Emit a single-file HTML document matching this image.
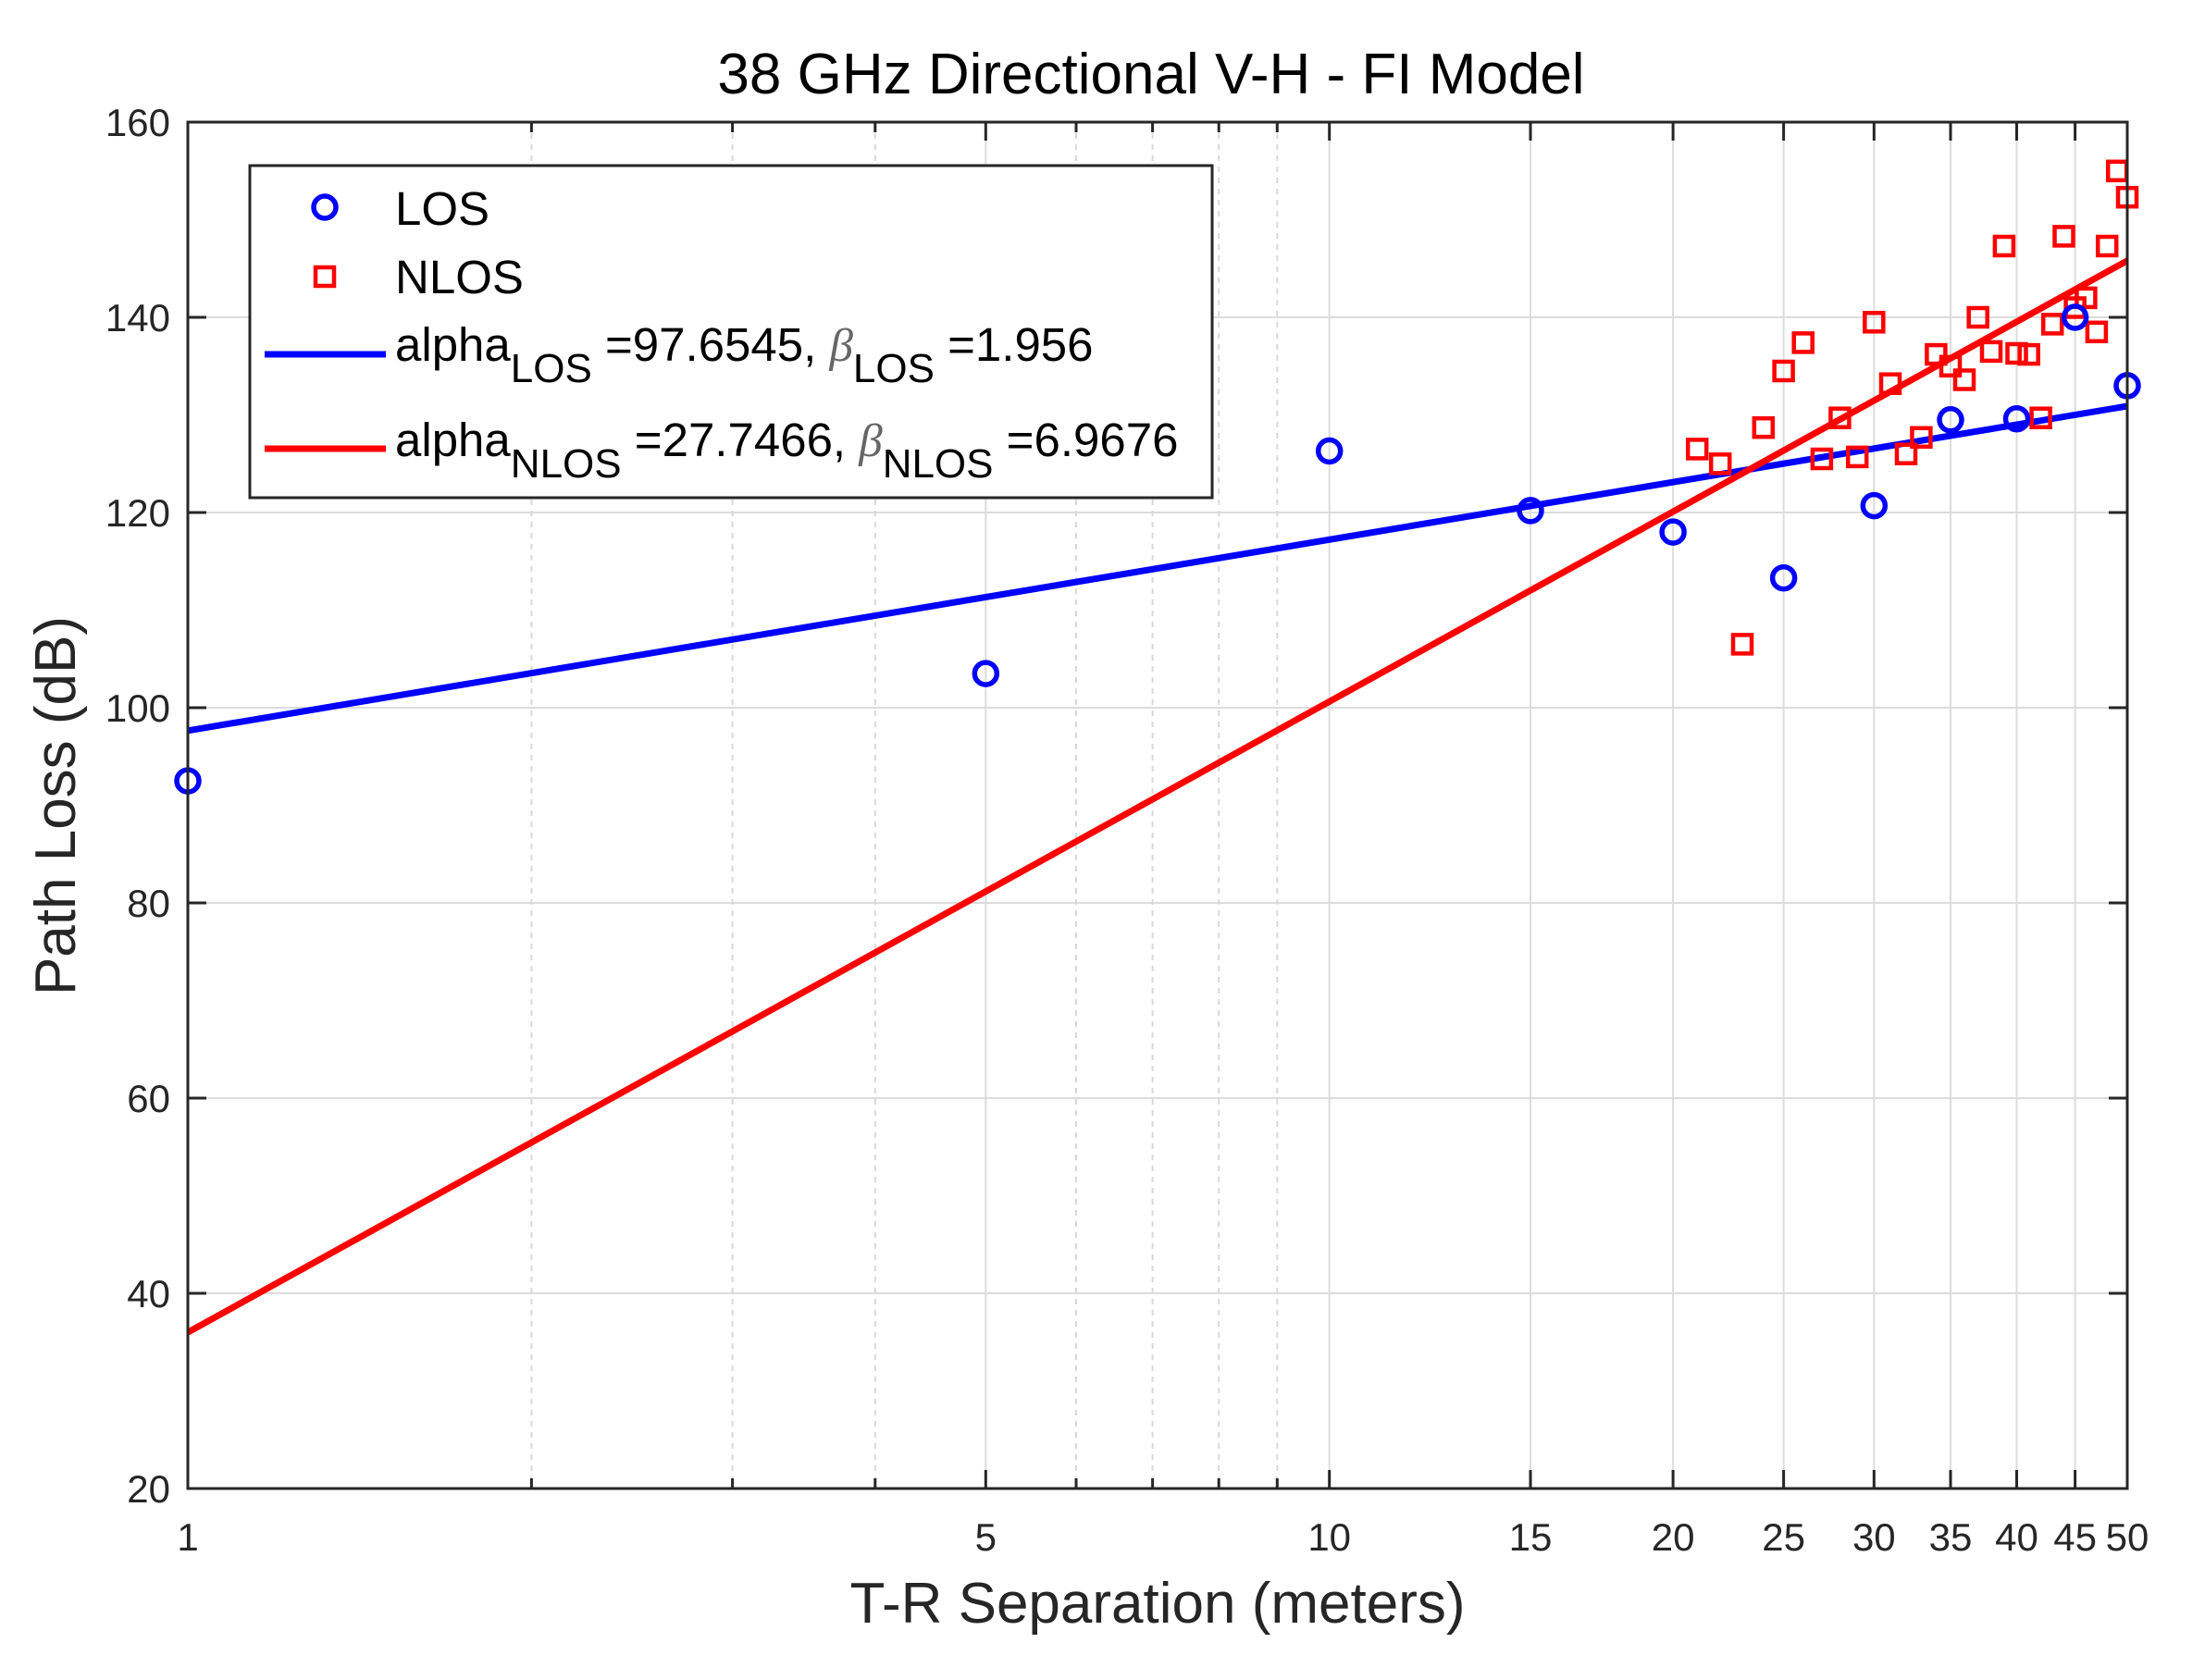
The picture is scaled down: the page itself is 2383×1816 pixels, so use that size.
<!DOCTYPE html>
<html><head><meta charset="utf-8"><style>html,body{margin:0;padding:0;background:#fff}svg{display:block}</style></head>
<body>
<svg width="2383" height="1816" viewBox="0 0 2383 1816" xmlns="http://www.w3.org/2000/svg" font-family="Liberation Sans, sans-serif">
<rect width="2383" height="1816" fill="#fff"/>
<g stroke="#dcdcdc" stroke-width="2">
<line x1="203" y1="343" x2="2299" y2="343"/><line x1="203" y1="554" x2="2299" y2="554"/>
<line x1="203" y1="765" x2="2299" y2="765"/><line x1="203" y1="976" x2="2299" y2="976"/>
<line x1="203" y1="1187" x2="2299" y2="1187"/><line x1="203" y1="1398" x2="2299" y2="1398"/>
<line x1="1065.3" y1="132" x2="1065.3" y2="1609"/><line x1="1436.7" y1="132" x2="1436.7" y2="1609"/>
<line x1="1654" y1="132" x2="1654" y2="1609"/><line x1="1808.1" y1="132" x2="1808.1" y2="1609"/>
<line x1="1927.6" y1="132" x2="1927.6" y2="1609"/><line x1="2025.3" y1="132" x2="2025.3" y2="1609"/>
<line x1="2108" y1="132" x2="2108" y2="1609"/><line x1="2179.5" y1="132" x2="2179.5" y2="1609"/>
<line x1="2242.6" y1="132" x2="2242.6" y2="1609"/>
</g>
<g stroke="#d8d8d8" stroke-width="2" stroke-dasharray="6,6">
<line x1="574.4" y1="132" x2="574.4" y2="1609"/><line x1="791.6" y1="132" x2="791.6" y2="1609"/>
<line x1="945.8" y1="132" x2="945.8" y2="1609"/><line x1="1163" y1="132" x2="1163" y2="1609"/>
<line x1="1245.6" y1="132" x2="1245.6" y2="1609"/><line x1="1317.2" y1="132" x2="1317.2" y2="1609"/>
<line x1="1380.3" y1="132" x2="1380.3" y2="1609"/>
</g>
<g stroke="#262626" stroke-width="3">
<path d="M203 343h20M203 554h20M203 765h20M203 976h20M203 1187h20M203 1398h20"/>
<path d="M2299 343h-20M2299 554h-20M2299 765h-20M2299 976h-20M2299 1187h-20M2299 1398h-20"/>
<path d="M1065.3 1609v-20M1436.7 1609v-20M1654 1609v-20M1808.1 1609v-20M1927.6 1609v-20M2025.3 1609v-20M2108 1609v-20M2179.5 1609v-20M2242.6 1609v-20"/>
<path d="M1065.3 132v20M1436.7 132v20M1654 132v20M1808.1 132v20M1927.6 132v20M2025.3 132v20M2108 132v20M2179.5 132v20M2242.6 132v20"/>
<path d="M574.4 1609v-11M791.6 1609v-11M945.8 1609v-11M1163 1609v-11M1245.6 1609v-11M1317.2 1609v-11M1380.3 1609v-11"/>
<path d="M574.4 132v11M791.6 132v11M945.8 132v11M1163 132v11M1245.6 132v11M1317.2 132v11M1380.3 132v11"/>
</g>
<line x1="203" y1="789.8" x2="2299" y2="439" stroke="#0000ff" stroke-width="7"/>
<line x1="203" y1="1440.2" x2="2299" y2="281.8" stroke="#ff0000" stroke-width="7"/>
<g fill="none" stroke="#ff0000" stroke-width="4.5">
<rect x="1824.2" y="475.4" width="20" height="20"/><rect x="1849.2" y="491.3" width="20" height="20"/>
<rect x="1873" y="686.4" width="20" height="20"/><rect x="1895.8" y="452.2" width="20" height="20"/>
<rect x="1917.6" y="391" width="20" height="20"/><rect x="1938.7" y="360.4" width="20" height="20"/>
<rect x="1958.9" y="486" width="20" height="20"/><rect x="1978.4" y="441.7" width="20" height="20"/>
<rect x="1997.2" y="483.9" width="20" height="20"/><rect x="2015.3" y="338.3" width="20" height="20"/>
<rect x="2033" y="404.7" width="20" height="20"/><rect x="2050" y="480.7" width="20" height="20"/>
<rect x="2066.4" y="462.8" width="20" height="20"/><rect x="2082.4" y="373.1" width="20" height="20"/>
<rect x="2098" y="385.8" width="20" height="20"/><rect x="2113" y="400.5" width="20" height="20"/>
<rect x="2127.7" y="333" width="20" height="20"/><rect x="2142" y="369.9" width="20" height="20"/>
<rect x="2155.9" y="256" width="20" height="20"/><rect x="2169.5" y="372" width="20" height="20"/>
<rect x="2182.7" y="373.1" width="20" height="20"/><rect x="2195.6" y="441.7" width="20" height="20"/>
<rect x="2208.2" y="340.4" width="20" height="20"/><rect x="2220.5" y="245.4" width="20" height="20"/>
<rect x="2232.6" y="322.5" width="20" height="20"/><rect x="2244.4" y="311.9" width="20" height="20"/>
<rect x="2255.9" y="348.8" width="20" height="20"/><rect x="2267.2" y="256" width="20" height="20"/>
<rect x="2278.2" y="174.8" width="20" height="20"/><rect x="2289" y="203.2" width="20" height="20"/>
</g>
<g fill="none" stroke="#0000ff" stroke-width="5.5">
<circle cx="203" cy="844.1" r="12"/><circle cx="1065.3" cy="728.1" r="12"/>
<circle cx="1436.7" cy="487.5" r="12"/><circle cx="1654" cy="551.9" r="12"/>
<circle cx="1808.1" cy="575.1" r="12"/><circle cx="1927.6" cy="624.7" r="12"/>
<circle cx="2025.3" cy="546.6" r="12"/><circle cx="2108" cy="453.8" r="12"/>
<circle cx="2179.5" cy="452.7" r="12"/><circle cx="2242.6" cy="343" r="12"/>
<circle cx="2299" cy="416.9" r="12"/>
</g>
<rect x="203" y="132" width="2096" height="1477" fill="none" stroke="#262626" stroke-width="3"/>
<rect x="270" y="179" width="1040" height="359" fill="#fff" stroke="#262626" stroke-width="3"/>
<circle cx="351" cy="224" r="12" fill="none" stroke="#0000ff" stroke-width="5.5"/>
<rect x="341" y="289" width="20" height="20" fill="none" stroke="#ff0000" stroke-width="4.5"/>
<line x1="286" y1="383" x2="417" y2="383" stroke="#0000ff" stroke-width="7"/>
<line x1="286" y1="485" x2="417" y2="485" stroke="#ff0000" stroke-width="7"/>
<g font-size="51" fill="#000">
<text x="427" y="243">LOS</text>
<text x="427" y="317">NLOS</text>
<text x="427" y="390">alpha<tspan font-size="44" dy="23">LOS</tspan><tspan dy="-23"> =97.6545, </tspan><tspan font-family="Liberation Serif, serif" font-style="italic" fill="#666">β</tspan><tspan font-size="44" dy="23">LOS</tspan><tspan dy="-23"> =1.956</tspan></text>
<text x="427" y="493">alpha<tspan font-size="44" dy="23">NLOS</tspan><tspan dy="-23"> =27.7466, </tspan><tspan font-family="Liberation Serif, serif" font-style="italic" fill="#666">β</tspan><tspan font-size="44" dy="23">NLOS</tspan><tspan dy="-23"> =6.9676</tspan></text>
</g>
<g font-size="42" fill="#262626" text-anchor="end">
<text x="184" y="147">160</text><text x="184" y="358">140</text><text x="184" y="569">120</text>
<text x="184" y="780">100</text><text x="184" y="991">80</text><text x="184" y="1202">60</text>
<text x="184" y="1413">40</text><text x="184" y="1624">20</text>
</g>
<g font-size="42" fill="#262626" text-anchor="middle">
<text x="203" y="1676">1</text><text x="1065.3" y="1676">5</text><text x="1436.7" y="1676">10</text>
<text x="1654" y="1676">15</text><text x="1808.1" y="1676">20</text><text x="1927.6" y="1676">25</text>
<text x="2025.3" y="1676">30</text><text x="2108" y="1676">35</text><text x="2179.5" y="1676">40</text>
<text x="2242.6" y="1676">45</text><text x="2299" y="1676">50</text>
</g>
<text x="1251" y="1754" font-size="62" fill="#262626" text-anchor="middle">T-R Separation (meters)</text>
<text transform="translate(81,871) rotate(-90)" font-size="62" fill="#262626" text-anchor="middle">Path Loss (dB)</text>
<text x="1244" y="101" font-size="62" fill="#000" text-anchor="middle">38 GHz Directional V-H - FI Model</text>
</svg>
</body></html>
